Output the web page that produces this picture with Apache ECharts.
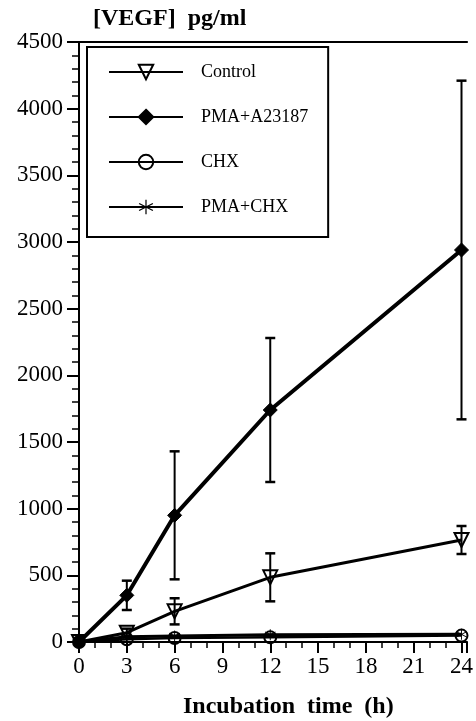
<!DOCTYPE html>
<html>
<head>
<meta charset="utf-8">
<script src="https://cdn.jsdelivr.net/npm/echarts@6/dist/echarts.min.js"></script>
<style>
html,body{margin:0;padding:0;background:#fff;}
#chart{width:476px;height:721px;}
</style>
</head>
<body>
<div id="chart"></div>
<script>
// ---- data ----
var times = [0, 3, 6, 12, 24];
var seriesNames = ['Control', 'PMA+A23187', 'CHX', 'PMA+CHX'];
var control = [0, 70, 230, 485, 765];
var controlErr = [0, 30, 98, 180, 105];
var pma = [0, 350, 950, 1740, 2940];
var pmaErr = [0, 110, 480, 540, 1270];
var chx = [0, 20, 30, 35, 48];
var chxErr = [0, 0, 0, 0, 0];
var pmaChx = [0, 40, 45, 55, 58];
var pmaChxErr = [0, 0, 0, 0, 0];
var yTicks = [0, 500, 1000, 1500, 2000, 2500, 3000, 3500, 4000, 4500];
var xTicks = [0, 3, 6, 9, 12, 15, 18, 21, 24];
var yTitle = '[VEGF]  pg/ml';
var xTitle = 'Incubation  time  (h)';

var FONT = '"Liberation Serif", "DejaVu Serif", serif';
var asterisk = 'path://M4.6,0 L5.4,0 L5.4,10 L4.6,10 Z M0.27,2.85 L0.67,2.15 L9.73,7.15 L9.33,7.85 Z M9.33,2.15 L9.73,2.85 L0.67,7.85 L0.27,7.15 Z';

function pairs(vals) { return times.map(function (t, i) { return [t, vals[i]]; }); }
function errTriples(vals, errs) {
  var out = [];
  times.forEach(function (t, i) { if (errs[i] > 0) out.push([t, vals[i], errs[i]]); });
  return out;
}

function errRender(params, api) {
  var x = api.value(0), y = api.value(1), e = api.value(2);
  var top = api.coord([x, y + e]);
  var bot = api.coord([x, y - e]);
  var cap = 5;
  var st = { stroke: '#000', lineWidth: 2 };
  return {
    type: 'group',
    children: [
      { type: 'line', shape: { x1: top[0], y1: top[1], x2: bot[0], y2: bot[1] }, style: st },
      { type: 'line', shape: { x1: top[0] - cap, y1: top[1], x2: top[0] + cap, y2: top[1] }, style: { stroke: '#000', lineWidth: 2.5 } },
      { type: 'line', shape: { x1: bot[0] - cap, y1: bot[1], x2: bot[0] + cap, y2: bot[1] }, style: { stroke: '#000', lineWidth: 2.5 } }
    ]
  };
}

var chart = echarts.init(document.getElementById('chart'));
var option = {
  backgroundColor: '#fff',
  animation: false,
  title: [
    { text: yTitle, left: 88, top: 2, textStyle: { fontFamily: FONT, fontSize: 24, fontWeight: 'bold', color: '#000' } },
    { text: xTitle, left: 178, top: 690, textStyle: { fontFamily: FONT, fontSize: 24, fontWeight: 'bold', color: '#000' } }
  ],
  legend: {
    data: seriesNames,
    orient: 'vertical',
    left: 87, top: 47,
    padding: [16, 20, 21, 21],
    itemWidth: 74, itemHeight: 18, itemGap: 27,
    borderColor: '#000', borderWidth: 2,
    textStyle: { fontFamily: FONT, fontSize: 18, color: '#000', padding: [0, 0, 0, 13] }
  },
  grid: { left: 79, right: 0, top: 42, bottom: 79, containLabel: false },
  xAxis: [{
    type: 'value', min: 0, max: 24.35, interval: 3,
    axisLine: { show: true, lineStyle: { color: '#000', width: 2 } },
    axisTick: { show: true, length: 11, lineStyle: { color: '#000', width: 2 } },
    minorTick: { show: true, splitNumber: 3, length: 6, lineStyle: { color: '#000', width: 1.5 } },
    splitLine: { show: false },
    axisLabel: {
      margin: 13, fontFamily: FONT, fontSize: 23, color: '#000', showMaxLabel: false,
      formatter: function (v) { return xTicks.indexOf(v) >= 0 ? String(v) : ''; }
    }
  }, {
    type: 'value', position: 'top', min: 0, max: 24.35,
    axisLine: { show: true, onZero: false, lineStyle: { color: '#000', width: 2 } },
    axisTick: { show: false }, axisLabel: { show: false }, splitLine: { show: false }
  }],
  yAxis: {
    type: 'value', min: yTicks[0], max: yTicks[yTicks.length - 1], interval: 500,
    axisLine: { show: true, lineStyle: { color: '#000', width: 2 } },
    axisTick: { show: true, length: 12, lineStyle: { color: '#000', width: 2 } },
    minorTick: { show: true, splitNumber: 5, length: 7, lineStyle: { color: '#000', width: 1.5 } },
    splitLine: { show: false },
    axisLabel: {
      margin: 16, fontFamily: FONT, fontSize: 23, color: '#000',
      formatter: function (v) { return String(v); }
    }
  },
  series: [
    {
      name: seriesNames[0], type: 'line', data: pairs(control), z: 3,
      symbol: 'triangle', symbolRotate: 180, symbolSize: 14,
      lineStyle: { color: '#000', width: 3 },
      itemStyle: { color: 'rgba(255,255,255,0)', borderColor: '#000', borderWidth: 2 }
    },
    {
      name: seriesNames[1], type: 'line', data: pairs(pma), z: 3,
      symbol: 'diamond', symbolSize: 14,
      lineStyle: { color: '#000', width: 4 },
      itemStyle: { color: '#000', borderColor: '#000', borderWidth: 1 }
    },
    {
      name: seriesNames[2], type: 'line', data: pairs(chx), z: 3,
      symbol: 'circle', symbolSize: 12,
      lineStyle: { color: '#000', width: 2.5 },
      itemStyle: { color: 'rgba(255,255,255,0)', borderColor: '#000', borderWidth: 2 }
    },
    {
      name: seriesNames[3], type: 'line', data: pairs(pmaChx), z: 3,
      symbol: asterisk, symbolSize: 11,
      lineStyle: { color: '#000', width: 3 },
      itemStyle: { color: '#000', borderWidth: 0 }
    },
    { type: 'custom', renderItem: errRender, data: errTriples(control, controlErr), z: 4, silent: true },
    { type: 'custom', renderItem: errRender, data: errTriples(pma, pmaErr), z: 4, silent: true },
    { type: 'custom', renderItem: errRender, data: errTriples(chx, chxErr), z: 4, silent: true },
    { type: 'custom', renderItem: errRender, data: errTriples(pmaChx, pmaChxErr), z: 4, silent: true }
  ]
};
chart.setOption(option);
</script>
</body>
</html>
